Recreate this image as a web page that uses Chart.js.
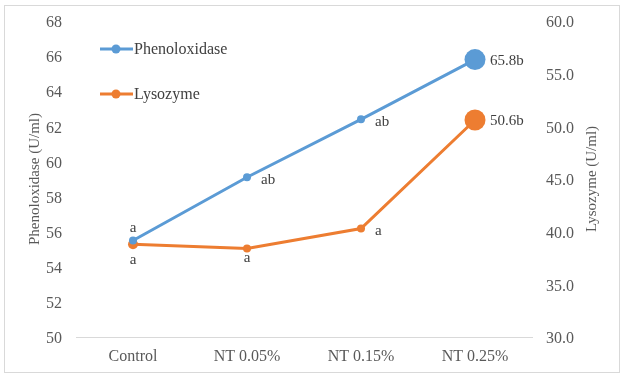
<!DOCTYPE html>
<html>
<head>
<meta charset="utf-8">
<script src="https://cdn.jsdelivr.net/npm/chart.js@4.4.0/dist/chart.umd.min.js"></script>
<style>
  html, body { margin: 0; padding: 0; background: #fff; }
  #wrap { position: relative; width: 624px; height: 377px; }
</style>
</head>
<body>
<div id="wrap"><canvas id="chart" width="624" height="377"></canvas></div>
<script>
// chart data
const categories = ['Control', 'NT 0.05%', 'NT 0.15%', 'NT 0.25%'];
const phenoloxidase = [55.5, 59.1, 62.4, 65.8];
const lysozyme = [38.8, 38.4, 40.3, 50.6];
const phenoLabels = ['a', 'ab', 'ab', '65.8b'];
const lysoLabels = ['a', 'a', 'a', '50.6b'];

const BLUE = '#5B9BD5';
const ORANGE = '#ED7D31';
const TXT = '#595959';
const FONT = '"Liberation Serif", "Times New Roman", serif';

// border around whole chart
const borderPlugin = {
    id: 'border',
    beforeDraw(chart) {
        const c = chart.ctx;
        c.save();
        c.strokeStyle = '#d9d9d9';
        c.lineWidth = 1;
        c.strokeRect(4.5, 5.5, 615, 367);
        c.restore();
    }
};

// point labels + legend + right axis title
const extrasPlugin = {
    id: 'extras',
    afterDatasetsDraw(chart) {
        const c = chart.ctx;
        c.save();
        c.fillStyle = '#404040';
        c.font = '15px ' + FONT;
        c.textBaseline = 'middle';

        const pm = chart.getDatasetMeta(0).data;
        const lm = chart.getDatasetMeta(1).data;

        // phenoloxidase labels
        c.textAlign = 'center';
        c.fillText(phenoLabels[0], pm[0].x, pm[0].y - 12);
        c.textAlign = 'left';
        c.fillText(phenoLabels[1], pm[1].x + 14, pm[1].y + 3);
        c.fillText(phenoLabels[2], pm[2].x + 14, pm[2].y + 3);
        c.fillText(phenoLabels[3], pm[3].x + 15, pm[3].y + 1);

        // lysozyme labels
        c.textAlign = 'center';
        c.fillText(lysoLabels[0], lm[0].x, lm[0].y + 16);
        c.fillText(lysoLabels[1], lm[1].x, lm[1].y + 10);
        c.textAlign = 'left';
        c.fillText(lysoLabels[2], lm[2].x + 14, lm[2].y + 3);
        c.fillText(lysoLabels[3], lm[3].x + 15, lm[3].y + 1);

        // legend
        c.font = '16px ' + FONT;
        const items = [['Phenoloxidase', BLUE, 49], ['Lysozyme', ORANGE, 94]];
        items.forEach(([name, col, y]) => {
            c.strokeStyle = col;
            c.lineWidth = 3;
            c.beginPath();
            c.moveTo(100, y);
            c.lineTo(133, y);
            c.stroke();
            c.fillStyle = col;
            c.beginPath();
            c.arc(116, y, 4.5, 0, Math.PI * 2);
            c.fill();
            c.fillStyle = '#404040';
            c.textAlign = 'left';
            c.fillText(name, 134, y + 1);
        });

        // right axis title (reads bottom to top)
        c.fillStyle = TXT;
        c.font = '15px ' + FONT;
        c.translate(592, 179);
        c.rotate(-Math.PI / 2);
        c.textAlign = 'center';
        c.fillText('Lysozyme (U/ml)', 0, 0);
        c.restore();
    }
};

new Chart(document.getElementById('chart'), {
    type: 'line',
    data: {
        labels: categories,
        datasets: [
            {
                label: 'Phenoloxidase',
                data: phenoloxidase,
                yAxisID: 'y',
                borderColor: BLUE,
                backgroundColor: BLUE,
                borderWidth: 3,
                pointRadius: [4, 4, 4, 10.5],
                pointBorderWidth: 0,
                tension: 0
            },
            {
                label: 'Lysozyme',
                data: lysozyme,
                yAxisID: 'y1',
                borderColor: ORANGE,
                backgroundColor: ORANGE,
                borderWidth: 3,
                pointRadius: [5, 4, 4, 10.5],
                pointBorderWidth: 0,
                tension: 0
            }
        ]
    },
    options: {
        responsive: false,
        animation: false,
        layout: { padding: { top: 21, left: 0, right: 0, bottom: 0 } },
        plugins: { legend: { display: false }, tooltip: { enabled: false } },
        scales: {
            x: {
                offset: true,
                grid: { display: false, offset: true },
                border: { color: '#d9d9d9', width: 1 },
                ticks: { color: TXT, font: { family: FONT, size: 16 }, padding: 2, maxRotation: 0 },
                afterFit: s => { s.height = 40; }
            },
            y: {
                position: 'left',
                min: 50, max: 68,
                grid: { display: false },
                border: { display: false },
                ticks: { stepSize: 2, color: TXT, font: { family: FONT, size: 16 }, padding: 6, labelOffset: 2 },
                title: {
                    display: true, text: 'Phenoloxidase (U/ml)', color: TXT,
                    font: { family: FONT, size: 15 }, padding: { top: 26, bottom: 0 }
                },
                afterFit: s => { s.width = 76; }
            },
            y1: {
                position: 'right',
                min: 30, max: 60,
                grid: { display: false },
                border: { display: false },
                ticks: {
                    stepSize: 5, color: TXT, font: { family: FONT, size: 16 }, padding: 6, labelOffset: 2,
                    callback: v => v.toFixed(1)
                },
                afterFit: s => { s.width = 92; }
            }
        }
    },
    plugins: [borderPlugin, extrasPlugin]
});
</script>
</body>
</html>
